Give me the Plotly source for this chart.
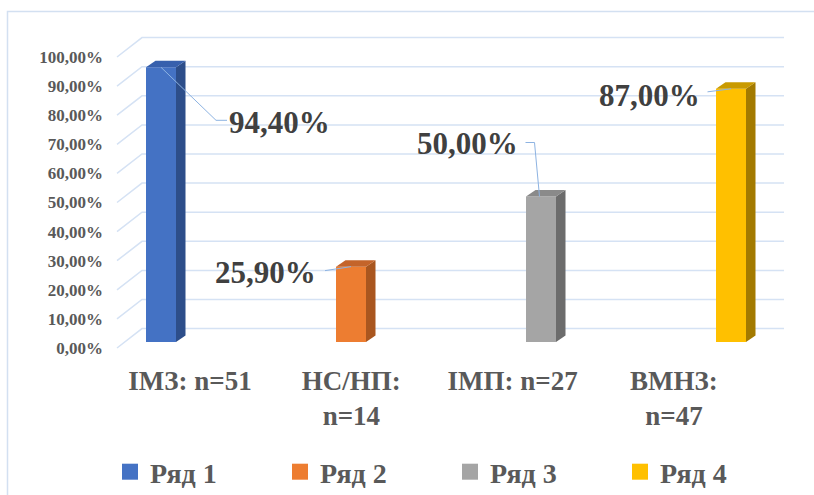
import plotly.graph_objects as go

# ---- data ----
categories = ["ІМЗ: n=51", "НС/НП:<br>n=14", "ІМП: n=27", "ВМНЗ:<br>n=47"]
series_names = ["Ряд 1", "Ряд 2", "Ряд 3", "Ряд 4"]
values = [94.40, 25.90, 50.00, 87.00]
y_ticks = [0, 10, 20, 30, 40, 50, 60, 70, 80, 90, 100]
y_tick_labels = ["0,00%", "10,00%", "20,00%", "30,00%", "40,00%", "50,00%",
                 "60,00%", "70,00%", "80,00%", "90,00%", "100,00%"]

# ---- styling ----
FONT = "Liberation Serif, Times New Roman, serif"
AXIS_TEXT = "#595959"
LABEL_TEXT = "#404040"
GRID = "#d5e2f4"
LEADER = "#8db3e2"
front_colors = ["#4472C4", "#ED7D31", "#A5A5A5", "#FFC000"]
side_colors = ["#2D4E8A", "#A9561F", "#6C6C6C", "#A37A00"]
top_colors = ["#3760AD", "#C4642A", "#8A8A8A", "#C99A00"]

W, H = 814, 495
M_L, M_R, M_T, M_B = 110, 14, 20, 135
PW, PH = W - M_L - M_R, H - M_T - M_B

# pixel scale of the bar axes
PX_PER_CAT = 190.0
PX_PER_PCT = 2.91
X0_PX = 161.0          # pixel of first category centre
Y0_PX = 342.0          # pixel of the 0 % bar base

# pseudo-3D geometry (in data units)
BAR_W = 30 / PX_PER_CAT
DEPTH_X = 9.5 / PX_PER_CAT
DEPTH_Y = 6.5 / PX_PER_PCT
WALL_SHIFT = 4.6        # back wall sits behind the bars
EDGE_SHIFT = -2.06      # front edge of the side wall (tick label level)
WALL_LEFT_FRONT = (117 - X0_PX) / PX_PER_CAT
WALL_LEFT_BACK = (142 - X0_PX) / PX_PER_CAT
WALL_RIGHT = (784 - X0_PX) / PX_PER_CAT

# category label axis (front of the floor)
LBL0_PX = 190.0
LBL_STEP = 161.33

# value label placement relative to the top of each bar, pixels (right, down)
label_offsets = [(118.5, 55), (-85.5, 6), (-73.5, -53), (-82, 7)]
leader_paths = [
    [(0, 0), (55, 53), (66, 53)],
    [(0, 0), (-26, 4)],
    [(-1.5, 0), (-6.5, -54), (-15.5, -54)],
    [(0, 0), (-23.5, 3)],
]


def fmt_pct(v):
    return f"{v:.2f}".replace(".", ",") + "%"


def to_data(i, v, dx_px, dy_px):
    return i + dx_px / PX_PER_CAT, v - dy_px / PX_PER_PCT


fig = go.Figure()

# front faces
for i, (name, v) in enumerate(zip(series_names, values)):
    fig.add_trace(go.Bar(
        x=[i], y=[v], width=BAR_W, name=name, legendgroup=name, showlegend=False,
        marker=dict(color=front_colors[i], line=dict(width=0)),
        hoverinfo="skip",
    ))

# side and top faces
for i, v in enumerate(values):
    xl = i - BAR_W / 2
    xr = i + BAR_W / 2
    fig.add_trace(go.Scatter(
        x=[xr, xr + DEPTH_X, xr + DEPTH_X, xr, xr],
        y=[0, DEPTH_Y, v + DEPTH_Y, v, 0],
        fill="toself", fillcolor=side_colors[i], mode="lines",
        line=dict(width=0), showlegend=False, hoverinfo="skip",
    ))
    fig.add_trace(go.Scatter(
        x=[xl, xr, xr + DEPTH_X, xl + DEPTH_X, xl],
        y=[v, v, v + DEPTH_Y, v + DEPTH_Y, v],
        fill="toself", fillcolor=top_colors[i], mode="lines",
        line=dict(width=0), showlegend=False, hoverinfo="skip",
    ))

# legend keys (square swatches)
for i, name in enumerate(series_names):
    fig.add_trace(go.Scatter(
        x=[None], y=[None], mode="markers", name=name, legendgroup=name,
        marker=dict(symbol="square", size=16, color=front_colors[i]),
        hoverinfo="skip",
    ))

# helper trace so the category axis is drawn
fig.add_trace(go.Scatter(
    x=list(range(len(categories))), y=[None] * len(categories),
    xaxis="x2", yaxis="y", showlegend=False, hoverinfo="skip", mode="markers",
))

shapes = []
# chart frame
shapes.append(dict(
    type="path", xref="paper", yref="paper",
    path=f"M {(7.5 - M_L) / PW},{-0.5} L {(7.5 - M_L) / PW},{(M_T + PH - 11.5) / PH} "
         f"L {1.05},{(M_T + PH - 11.5) / PH}",
    line=dict(color="#d3e0f1", width=1.5), layer="below",
))
# side wall + back wall gridlines
for t in y_ticks:
    shapes.append(dict(
        type="path", xref="x", yref="y", layer="below",
        path=f"M {WALL_LEFT_FRONT},{t + EDGE_SHIFT} L {WALL_LEFT_BACK},{t + WALL_SHIFT} "
             f"L {WALL_RIGHT},{t + WALL_SHIFT}",
        line=dict(color=GRID, width=1.5),
    ))
# leader lines
for i, v in enumerate(values):
    pts = [to_data(i, v, dx, dy) for dx, dy in leader_paths[i]]
    path = "M " + " L ".join(f"{x},{y}" for x, y in pts)
    shapes.append(dict(type="path", xref="x", yref="y", layer="above",
                       path=path, line=dict(color=LEADER, width=1)))

annotations = []
for i, v in enumerate(values):
    ax, ay = to_data(i, v, *label_offsets[i])
    annotations.append(dict(
        x=ax, y=ay, xref="x", yref="y", text=fmt_pct(v), showarrow=False,
        xanchor="center", yanchor="middle",
        font=dict(family=FONT, size=31, color=LABEL_TEXT, weight="bold"),
    ))

x_lo = (M_L - X0_PX) / PX_PER_CAT
x_hi = (M_L + PW - X0_PX) / PX_PER_CAT
y_lo = (Y0_PX - (M_T + PH)) / PX_PER_PCT
y_hi = (Y0_PX - M_T) / PX_PER_PCT
x2_lo = (M_L - LBL0_PX) / LBL_STEP
x2_hi = (M_L + PW - LBL0_PX) / LBL_STEP

fig.update_layout(
    width=W, height=H,
    margin=dict(l=M_L, r=M_R, t=M_T, b=M_B, autoexpand=False),
    paper_bgcolor="white", plot_bgcolor="white",
    barmode="overlay",
    shapes=shapes, annotations=annotations,
    xaxis=dict(range=[x_lo, x_hi], showgrid=False, zeroline=False,
               showticklabels=False, showline=False, ticks=""),
    xaxis2=dict(range=[x2_lo, x2_hi], overlaying="x", side="bottom", anchor="y",
                tickmode="array", tickvals=list(range(len(categories))),
                ticktext=categories, showgrid=False, zeroline=False,
                showline=False, ticks="", ticklabelstandoff=2,
                tickfont=dict(family=FONT, size=27, color=AXIS_TEXT, weight="bold")),
    yaxis=dict(range=[y_lo, y_hi], showgrid=False, zeroline=False, showline=False,
               tickmode="array", tickvals=[t + EDGE_SHIFT for t in y_ticks],
               ticktext=y_tick_labels, ticks="", ticklabelstandoff=6,
               tickfont=dict(family=FONT, size=17, color=AXIS_TEXT, weight="bold")),
    legend=dict(orientation="h", x=0.0, xanchor="left", y=(M_T + PH - 472) / PH,
                yanchor="middle", entrywidth=125, entrywidthmode="pixels",
                itemwidth=30, itemsizing="trace", bgcolor="rgba(0,0,0,0)",
                font=dict(family=FONT, size=28, color=AXIS_TEXT, weight="bold")),
    showlegend=True,
)

fig.write_html("out.html")
